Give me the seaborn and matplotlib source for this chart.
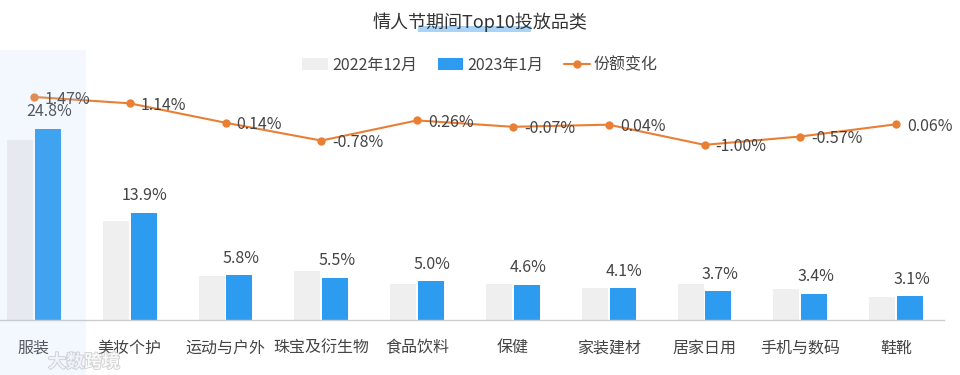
import numpy as np
import pandas as pd
import matplotlib
matplotlib.use("Agg")
import matplotlib.pyplot as plt
import matplotlib.patheffects as pe
from matplotlib.patches import Patch, Rectangle
from matplotlib.lines import Line2D
import seaborn as sns

categories = ["服装", "美妆个护", "运动与户外", "珠宝及衍生物", "食品饮料",
              "保健", "家装建材", "居家日用", "手机与数码", "鞋靴"]
share_dec = [23.3, 12.8, 5.7, 6.3, 4.7, 4.7, 4.1, 4.7, 4.0, 3.0]
share_jan = [24.8, 13.9, 5.8, 5.5, 5.0, 4.6, 4.1, 3.7, 3.4, 3.1]
share_change = [1.47, 1.14, 0.14, -0.78, 0.26, -0.07, 0.04, -1.00, -0.57, 0.06]
series_names = ["2022年12月", "2023年1月"]
line_name = "份额变化"

GRAY = "#efefef"
BLUE = "#2d9bef"
ORANGE = "#e97f34"
TXT = "#444444"

sns.set_theme(style="white")
plt.rcParams["font.family"] = ["Noto Sans CJK SC", "DejaVu Sans"]

df = pd.DataFrame({
    "cat": categories * 2,
    "val": share_dec + share_jan,
    "series": [series_names[0]] * len(categories) + [series_names[1]] * len(categories),
})

W, H = 960, 375
fig = plt.figure(figsize=(W / 100, H / 100), dpi=100)
ax = fig.add_axes([-14 / W, 55 / H, 958 / W, 270 / H])

sns.barplot(data=df, x="cat", y="val", hue="series", order=categories,
            hue_order=series_names, palette=[GRAY, BLUE], width=0.58, gap=0.07,
            legend=False, ax=ax, saturation=1, linewidth=0)
ax.set_xlim(-0.5, len(categories) - 0.5)
ax.set_ylim(0, 35)
ax.set_xlabel(""); ax.set_ylabel("")
ax.set_yticks([])
for s in ["top", "right", "left"]:
    ax.spines[s].set_visible(False)
ax.spines["bottom"].set_color("#cccccc")
ax.spines["bottom"].set_linewidth(1)
ax.tick_params(axis="x", length=0, pad=14, labelsize=11.5, labelcolor=TXT)

for i, v in enumerate(share_jan):
    ax.annotate(f"{v:.1f}%", (i + 0.145, v), xytext=(1, 6), textcoords="offset points",
                ha="center", va="bottom", fontsize=11.5, color=TXT)

ax2 = ax.twinx()
x = np.arange(len(categories))
sns.lineplot(x=x, y=share_change, color=ORANGE, marker="o", markersize=6,
             markeredgewidth=0, linewidth=1.5, ax=ax2)
ax2.set_xlim(-0.5, len(categories) - 0.5)
ax2.set_ylim(-10.03, 3.89)
ax2.set_yticks([])
ax2.set_ylabel("")
for s in ["top", "right", "left", "bottom"]:
    ax2.spines[s].set_visible(False)
for i, v in enumerate(share_change):
    ax2.annotate(f"{v:.2f}%", (i, v), xytext=(8, -1.5), textcoords="offset points",
                 ha="left", va="center", fontsize=11.5, color=TXT)

# highlighted first category band
fig.patches.append(Rectangle((0, 0), 86 / W, (H - 50) / H, transform=fig.transFigure,
                             facecolor=(0.70, 0.82, 0.98), alpha=0.15, edgecolor="none",
                             zorder=5))

# title with selection highlight
fig.patches.append(Rectangle((418 / W, 1 - 32 / H), 113 / W, 6 / H, transform=fig.transFigure,
                             facecolor="#a9d3f7", edgecolor="none", zorder=0))
fig.text(0.5, 1 - 22 / H, "情人节期间Top10投放品类", ha="center", va="center",
         fontsize=13, color="#333333")

handles = [Patch(facecolor=GRAY, edgecolor="none"),
           Patch(facecolor=BLUE, edgecolor="none"),
           Line2D([], [], color=ORANGE, marker="o", markersize=6, markeredgewidth=0, linewidth=1.5)]
fig.legend(handles, series_names + [line_name], loc="center", bbox_to_anchor=(0.5, 1 - 65 / H),
           ncol=3, frameon=False, fontsize=11.5, handlelength=1.6, handletextpad=0.25,
           columnspacing=1.3, labelcolor=TXT)

# watermark
fig.text(48 / W, 1 - 362 / H, "大数跨境", ha="left", va="center", fontsize=13,
         color="white", alpha=0.85, fontweight="bold",
         path_effects=[pe.withStroke(linewidth=1.2, foreground="#c8c8c8")])

fig.savefig("out.png", dpi=100)
